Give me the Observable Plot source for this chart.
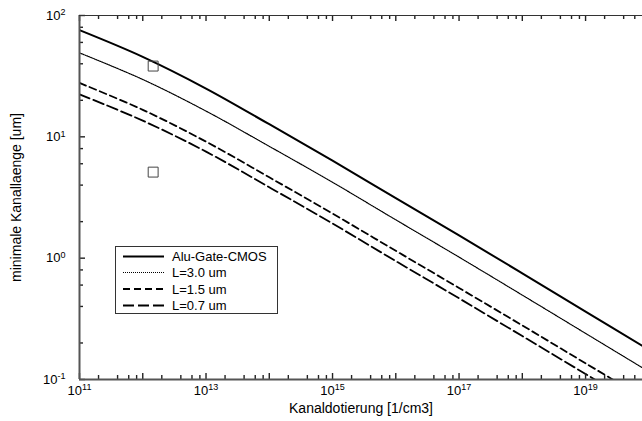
<!DOCTYPE html>
<html><head><meta charset="utf-8">
<script src="https://cdn.jsdelivr.net/npm/d3@7"></script>
<script src="https://cdn.jsdelivr.net/npm/@observablehq/plot@0.6"></script>
<style>
body{margin:0;background:#fff;}
#chart{position:relative;width:642px;height:421px;font-family:"Liberation Sans",Arial,Helvetica,sans-serif;}
#chart svg{font-family:"Liberation Sans",Arial,Helvetica,sans-serif;}
#chart g[aria-label$="tick label"]{font-size:13px;fill:#000;}
#chart g[aria-label$="axis label"]{font-size:14px;fill:#000;}
#legend{position:absolute;left:115px;top:246px;width:161px;height:66px;border:1px solid #333;background:#fff;}
#legend svg{display:block;font-family:"Liberation Sans",Arial,Helvetica,sans-serif;font-size:13px;}
</style></head><body><div id="chart"></div>
<script>
// Doping concentration (1/cm3), one point per decade
const doping = [1e11, 1e12, 1e13, 1e14, 1e15, 1e16, 1e17, 1e18, 1e19, 1e20];
// Minimal channel length (um)
const aluGate = [75.7, 45.6, 25.0, 12.7, 6.36, 3.12, 1.54, 0.750, 0.363, 0.176];
const len30 = [49.2, 29.7, 16.3, 8.35, 4.22, 2.07, 1.02, 0.496, 0.240, 0.116];
const len15 = [27.8, 16.7, 9.13, 4.64, 2.33, 1.15, 0.568, 0.279, 0.136, 0.0664];
const len07 = [22.4, 13.6, 7.55, 3.84, 1.93, 0.946, 0.467, 0.228, 0.111, 0.0539];
const seriesNames = ["Alu-Gate-CMOS", "L=3.0 um", "L=1.5 um", "L=0.7 um"];
const seriesValues = [aluGate, len30, len15, len07];
// measured points (squares)
const measDoping = [1.46e12, 1.46e12];
const measLength = [38.3, 5.12];
// ticks
const xMajorTicks = [1e11, 1e12, 1e13, 1e14, 1e15, 1e16, 1e17, 1e18, 1e19];
const xLabelTicks = [1e11, 1e13, 1e15, 1e17, 1e19];
const yMajorTicks = [0.1, 1, 10, 100];
const minorFactors = [2, 4, 6, 8];
const xLabel = "Kanaldotierung [1/cm3]";
const yLabel = "minimale Kanallaenge [um]";

// styles
const lineStyles = [
  {strokeWidth: 2, strokeDasharray: null},
  {strokeWidth: 1.2, strokeDasharray: "1,1"},
  {strokeWidth: 1.8, strokeDasharray: "7,4"},
  {strokeWidth: 1.8, strokeDasharray: "11,4"}
];

const xDomain = [1e11, Math.pow(10, 19.9)];
const yDomain = [0.1, 100];
const xMinorTicks = xMajorTicks.flatMap(d => minorFactors.map(f => d * f)).filter(v => v <= xDomain[1]);
const yMinorTicks = yMajorTicks.slice(0, -1).flatMap(d => minorFactors.map(f => d * f));

const table = seriesNames.flatMap((name, i) => doping.map((x, j) => ({name, x, y: seriesValues[i][j]})));
const meas = measDoping.map((x, i) => ({x, y: measLength[i]}));
const fmt = d => "10^" + Math.round(Math.log10(d));

const W = 642, H = 421, ML = 79, MR = 0, MT = 15, MB = 42;
const innerW = W - ML - MR, innerH = H - MT - MB;
const axisColor = "#555";
const tickColor = "#222";
const tickWidth = 1.4;
const MAJ = 6, MIN = 4;
const plot = Plot.plot({
  width: W, height: H,
  marginLeft: ML, marginRight: MR, marginTop: MT, marginBottom: MB,
  x: {type: "log", domain: xDomain},
  y: {type: "log", domain: yDomain},
  marks: [
    ...seriesNames.map((name, i) => Plot.line(table.filter(d => d.name === name), {
      x: "x", y: "y", stroke: "#000", curve: "catmull-rom", clip: true, ...lineStyles[i]
    })),
    Plot.dot(meas, {x: "x", y: "y", symbol: "square", r: 5.6, stroke: "#444", fill: "none", strokeWidth: 1}),
    // inward ticks: bottom, top, left
    Plot.tickX(xMajorTicks, {x: d => d, insetTop: innerH - MAJ, stroke: tickColor, strokeWidth: tickWidth}),
    Plot.tickX(xMinorTicks, {x: d => d, insetTop: innerH - MIN, stroke: tickColor, strokeWidth: tickWidth}),
    Plot.tickX(xMajorTicks, {x: d => d, insetBottom: innerH - MAJ, stroke: tickColor, strokeWidth: tickWidth}),
    Plot.tickX(xMinorTicks, {x: d => d, insetBottom: innerH - MIN, stroke: tickColor, strokeWidth: tickWidth}),
    Plot.tickY(yMajorTicks, {y: d => d, insetRight: innerW - MAJ, stroke: tickColor, strokeWidth: tickWidth}),
    Plot.tickY(yMinorTicks, {y: d => d, insetRight: innerW - MIN, stroke: tickColor, strokeWidth: tickWidth}),
    Plot.ruleX([xDomain[0]], {stroke: axisColor, strokeWidth: 2}),
    Plot.ruleY([yDomain[0]], {stroke: axisColor, strokeWidth: 2}),
    Plot.ruleY([yDomain[1]], {stroke: "#333", strokeWidth: 1.2}),
    Plot.axisX({ticks: xLabelTicks, anchor: "bottom", tickSize: 0, tickPadding: 6, tickFormat: fmt,
      label: xLabel, labelAnchor: "center", labelOffset: 33, labelArrow: "none"}),
    Plot.axisY({ticks: yMajorTicks, anchor: "left", tickSize: 0, tickPadding: 14, tickFormat: fmt,
      label: yLabel, labelAnchor: "center", labelOffset: 68, labelArrow: "none"})
  ]
});

// superscript exponents in tick labels
plot.querySelectorAll('g[aria-label$="tick label"] text').forEach(t => {
  const s = t.textContent;
  if (!s.includes("^")) return;
  const [base, exp] = s.split("^");
  t.textContent = "";
  const b = document.createElementNS("http://www.w3.org/2000/svg", "tspan");
  b.textContent = base;
  const e = document.createElementNS("http://www.w3.org/2000/svg", "tspan");
  e.textContent = exp;
  e.setAttribute("font-size", "9");
  e.setAttribute("dy", "-0.5em");
  t.appendChild(b); t.appendChild(e);
});

const chart = document.getElementById("chart");
chart.appendChild(plot);

// legend inside plot area
const legend = document.createElement("div");
legend.id = "legend";
const ns = "http://www.w3.org/2000/svg";
const lsvg = document.createElementNS(ns, "svg");
lsvg.setAttribute("width", 161); lsvg.setAttribute("height", 66);
const rowY = [9.5, 25.5, 42, 58.5];
seriesNames.forEach((name, i) => {
  const ln = document.createElementNS(ns, "line");
  ln.setAttribute("x1", 7); ln.setAttribute("x2", 48);
  ln.setAttribute("y1", rowY[i]); ln.setAttribute("y2", rowY[i]);
  ln.setAttribute("stroke", "#000");
  ln.setAttribute("stroke-width", lineStyles[i].strokeWidth);
  if (lineStyles[i].strokeDasharray) ln.setAttribute("stroke-dasharray", lineStyles[i].strokeDasharray);
  lsvg.appendChild(ln);
  const tx = document.createElementNS(ns, "text");
  tx.setAttribute("x", 56); tx.setAttribute("y", rowY[i]); tx.setAttribute("dy", "0.36em");
  tx.textContent = name;
  lsvg.appendChild(tx);
});
legend.appendChild(lsvg);
chart.appendChild(legend);
</script>
</body></html>
